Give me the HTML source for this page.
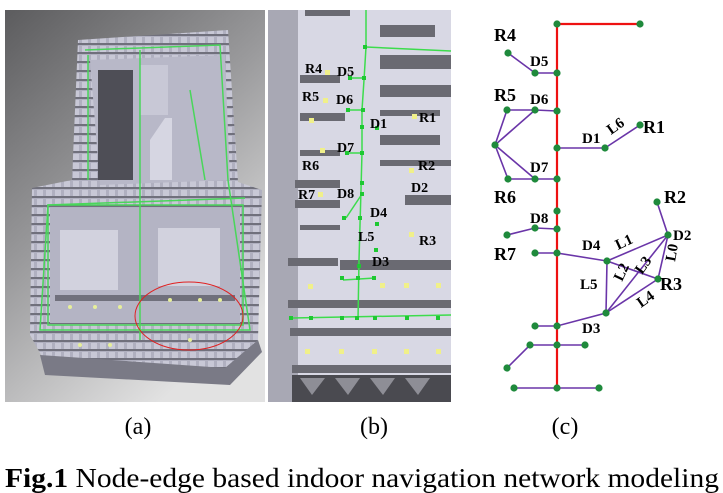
<!DOCTYPE html>
<html><head><meta charset="utf-8"><style>
html,body{margin:0;padding:0;background:#fff;}
svg{display:block;}
text{font-family:"Liberation Serif",serif;}
</style></head><body>
<svg width="723" height="493" viewBox="0 0 723 493" xmlns="http://www.w3.org/2000/svg">
<defs>
<linearGradient id="ga" x1="0" y1="0" x2="0.6" y2="1">
<stop offset="0" stop-color="#5c5c5e"/><stop offset="0.5" stop-color="#9a9a9c"/><stop offset="1" stop-color="#e2e2e2"/>
</linearGradient>
<pattern id="rooms" width="9" height="9" patternUnits="userSpaceOnUse">
<rect width="9" height="9" fill="#b0b0c0"/><rect x="1" y="1" width="6" height="6" fill="#c8c8d6"/><rect x="0" y="7" width="9" height="2" fill="#70707c"/>
</pattern>
</defs>
<!-- Panel a -->
<rect x="5" y="10" width="260" height="392" fill="url(#ga)"/>
<polygon points="78,40 228,30 238,182 262,190 258,340 225,372 45,362 30,335 32,188 72,180" fill="url(#rooms)"/>
<polygon points="40,355 225,368 258,340 262,352 230,385 45,375" fill="#7a7a86"/>
<polygon points="90,60 225,55 230,180 100,185" fill="#b8b8c8"/>
<rect x="98" y="70" width="35" height="110" fill="#4e4e56"/>
<rect x="140" y="65" width="28" height="50" fill="#c8c8d6"/>
<polygon points="150,140 165,118 172,118 172,180 150,180" fill="#d6d6e2"/>
<rect x="50" y="208" width="190" height="115" fill="#b4b4c4"/>
<rect x="60" y="230" width="58" height="60" fill="#d2d2de"/>
<rect x="158" y="228" width="62" height="58" fill="#d2d2de"/>
<rect x="55" y="295" width="180" height="6" fill="#70707c"/>
<g stroke="#49d65a" stroke-width="1.5" fill="none">
<polyline points="85,50 220,45 228,180 250,330 40,330 48,205 245,198"/>
<line x1="140" y1="50" x2="140" y2="340"/>
<line x1="88" y1="55" x2="88" y2="180"/>
<rect x="48" y="205" width="195" height="120"/>
<line x1="190" y1="90" x2="205" y2="180"/>
</g>
<g fill="#e7ef9a">
<circle cx="70" cy="307" r="2"/><circle cx="95" cy="307" r="2"/><circle cx="120" cy="307" r="2"/><circle cx="170" cy="300" r="2"/><circle cx="200" cy="300" r="2"/><circle cx="220" cy="300" r="2"/>
<circle cx="80" cy="345" r="2"/><circle cx="110" cy="345" r="2"/><circle cx="190" cy="340" r="2"/>
</g>
<ellipse cx="189" cy="316" rx="54" ry="34" fill="none" stroke="#e02020" stroke-width="1"/>
<!-- Panel b -->
<rect x="268" y="10" width="183" height="392" fill="#d8d8e4"/>
<rect x="268" y="10" width="30" height="392" fill="#a8a8b4"/>
<g fill="#6a6a72">
<rect x="305" y="10" width="45" height="6"/><rect x="380" y="25" width="55" height="12"/><rect x="380" y="55" width="71" height="14"/>
<rect x="300" y="75" width="40" height="8"/><rect x="300" y="113" width="45" height="8"/><rect x="380" y="85" width="71" height="12"/>
<rect x="380" y="135" width="60" height="10"/><rect x="295" y="180" width="45" height="8"/><rect x="295" y="200" width="45" height="8"/>
<rect x="405" y="195" width="46" height="10"/><rect x="288" y="258" width="50" height="8"/><rect x="340" y="260" width="111" height="10"/>
<rect x="288" y="300" width="163" height="8"/><rect x="290" y="328" width="161" height="8"/><rect x="292" y="365" width="159" height="8"/>
<rect x="380" y="110" width="60" height="6"/><rect x="300" y="150" width="40" height="6"/><rect x="380" y="160" width="71" height="6"/><rect x="300" y="225" width="40" height="5"/>
</g>
<polygon points="292,375 451,375 451,402 292,402" fill="#4a4a50"/>
<g fill="#8e8e96"><polygon points="300,378 325,378 312,395"/><polygon points="335,378 360,378 348,395"/><polygon points="370,378 395,378 383,395"/><polygon points="405,378 430,378 418,395"/></g>
<g stroke="#3cdc4c" stroke-width="1.5" fill="none">
<line x1="366" y1="10" x2="366" y2="47"/><line x1="366" y1="47" x2="451" y2="51"/>
<polyline points="366,47 364,80 362,110 362,152 361,190 359,260 358,320"/>
<line x1="292" y1="318" x2="451" y2="315"/>
<line x1="343" y1="280" x2="375" y2="278"/>
<line x1="350" y1="78" x2="364" y2="78"/><line x1="348" y1="110" x2="363" y2="110"/>
<line x1="346" y1="153" x2="362" y2="153"/><line x1="346" y1="218" x2="362" y2="194"/>
</g>
<g fill="#1ec832">
<rect x="363" y="45" width="4" height="4"/><rect x="348" y="76" width="4" height="4"/><rect x="362" y="76" width="4" height="4"/>
<rect x="346" y="108" width="4" height="4"/><rect x="361" y="108" width="4" height="4"/><rect x="360" y="125" width="4" height="4"/>
<rect x="375" y="126" width="4" height="4"/><rect x="345" y="151" width="4" height="4"/><rect x="360" y="151" width="4" height="4"/>
<rect x="360" y="181" width="4" height="4"/><rect x="360" y="192" width="4" height="4"/><rect x="342" y="216" width="4" height="4"/>
<rect x="358" y="216" width="4" height="4"/><rect x="375" y="222" width="4" height="4"/><rect x="374" y="248" width="4" height="4"/>
<rect x="357" y="264" width="4" height="4"/><rect x="340" y="276" width="4" height="4"/><rect x="356" y="276" width="4" height="4"/><rect x="372" y="276" width="4" height="4"/>
<rect x="289" y="316" width="4" height="4"/><rect x="309" y="316" width="4" height="4"/><rect x="340" y="316" width="4" height="4"/><rect x="355" y="316" width="4" height="4"/><rect x="373" y="316" width="4" height="4"/><rect x="405" y="316" width="4" height="4"/><rect x="436" y="316" width="4" height="4"/>
</g>
<g fill="#f0f08a">
<rect x="325" y="70" width="5" height="5"/><rect x="323" y="98" width="5" height="5"/><rect x="412" y="114" width="5" height="5"/>
<rect x="309" y="118" width="5" height="5"/><rect x="320" y="148" width="5" height="5"/><rect x="409" y="168" width="5" height="5"/>
<rect x="318" y="192" width="5" height="5"/><rect x="409" y="232" width="5" height="5"/>
<rect x="308" y="284" width="5" height="5"/><rect x="380" y="283" width="5" height="5"/><rect x="404" y="283" width="5" height="5"/><rect x="436" y="283" width="5" height="5"/>
<rect x="305" y="349" width="5" height="5"/><rect x="339" y="349" width="5" height="5"/><rect x="372" y="349" width="5" height="5"/><rect x="404" y="349" width="5" height="5"/><rect x="436" y="349" width="5" height="5"/>
</g>
<g font-size="14" font-weight="bold" fill="#000">
<text x="305" y="73">R4</text><text x="337" y="76">D5</text><text x="302" y="101">R5</text><text x="336" y="104">D6</text>
<text x="370" y="128">D1</text><text x="419" y="122">R1</text><text x="337" y="152">D7</text><text x="302" y="170">R6</text>
<text x="418" y="170">R2</text><text x="411" y="192">D2</text><text x="298" y="199">R7</text><text x="337" y="198">D8</text>
<text x="370" y="217">D4</text><text x="358" y="241">L5</text><text x="419" y="245">R3</text><text x="372" y="266">D3</text>
</g>
<!-- Panel c -->
<g stroke="#6a35a8" stroke-width="1.6" fill="none">
<polyline points="508,53 535,73 557,73"/>
<polyline points="557,111 535,110 507,110 495,145 508,179 557,179"/>
<line x1="535" y1="110" x2="495" y2="145"/><line x1="495" y1="145" x2="535" y2="179"/>
<polyline points="557,148 605,148 640,125"/>
<polyline points="507,235 535,228 557,229"/>
<polyline points="535,253 557,253 607,261 606,313 557,326 535,326"/>
<line x1="607" y1="261" x2="668" y2="235"/><line x1="607" y1="261" x2="658" y2="279"/>
<line x1="606" y1="313" x2="668" y2="235"/><line x1="606" y1="313" x2="658" y2="279"/>
<line x1="668" y1="235" x2="658" y2="279"/><line x1="668" y1="235" x2="657" y2="202"/>
<polyline points="507,368 530,345 585,345"/>
<line x1="514" y1="388" x2="599" y2="388"/>
</g>
<g stroke="#ee1111" stroke-width="2.2" fill="none">
<polyline points="640,24 557,24 557,388"/>
</g>
<g fill="#1f8a3c">
<circle cx="557" cy="24" r="3.6"/><circle cx="640" cy="24" r="3.6"/>
<circle cx="557" cy="73" r="3.6"/><circle cx="535" cy="73" r="3.6"/><circle cx="508" cy="53" r="3.6"/>
<circle cx="557" cy="111" r="3.6"/><circle cx="535" cy="110" r="3.6"/><circle cx="507" cy="110" r="3.6"/><circle cx="495" cy="145" r="3.6"/>
<circle cx="557" cy="148" r="3.6"/><circle cx="605" cy="148" r="3.6"/><circle cx="640" cy="125" r="3.6"/>
<circle cx="557" cy="179" r="3.6"/><circle cx="535" cy="179" r="3.6"/><circle cx="508" cy="179" r="3.6"/>
<circle cx="557" cy="211" r="3.6"/><circle cx="557" cy="229" r="3.6"/><circle cx="535" cy="228" r="3.6"/><circle cx="507" cy="235" r="3.6"/>
<circle cx="557" cy="253" r="3.6"/><circle cx="535" cy="253" r="3.6"/>
<circle cx="607" cy="261" r="3.6"/><circle cx="668" cy="235" r="3.6"/><circle cx="657" cy="202" r="3.6"/><circle cx="658" cy="279" r="3.6"/><circle cx="606" cy="313" r="3.6"/>
<circle cx="557" cy="326" r="3.6"/><circle cx="535" cy="326" r="3.6"/>
<circle cx="557" cy="345" r="3.6"/><circle cx="530" cy="345" r="3.6"/><circle cx="585" cy="345" r="3.6"/><circle cx="507" cy="368" r="3.6"/>
<circle cx="557" cy="388" r="3.6"/><circle cx="514" cy="388" r="3.6"/><circle cx="599" cy="388" r="3.6"/>
</g>
<g font-weight="bold" fill="#000">
<g font-size="18"><text x="494" y="41">R4</text><text x="494" y="101">R5</text><text x="643" y="133">R1</text><text x="494" y="203">R6</text><text x="664" y="203">R2</text><text x="494" y="260">R7</text><text x="660" y="290">R3</text></g>
<g font-size="15"><text x="530" y="66">D5</text><text x="530" y="104">D6</text><text x="582" y="143">D1</text><text x="530" y="172">D7</text><text x="530" y="223">D8</text><text x="582" y="250">D4</text><text x="673" y="240">D2</text><text x="582" y="333">D3</text><text x="580" y="289">L5</text>
<text transform="translate(611,135) rotate(-35)">L6</text>
<text transform="translate(618,250) rotate(-25)">L1</text>
<text transform="translate(622,282) rotate(-65)">L2</text>
<text transform="translate(642,275) rotate(-55)">L3</text>
<text transform="translate(675,262) rotate(-80)">L0</text>
<text transform="translate(641,308) rotate(-35)">L4</text></g>
</g>
<!-- captions -->
<g font-size="24" fill="#000" text-anchor="middle"><text x="138" y="434">(a)</text><text x="374" y="434">(b)</text><text x="565" y="434">(c)</text></g>
<text x="5" y="487" font-size="27" textLength="714" lengthAdjust="spacingAndGlyphs"><tspan font-weight="bold">Fig.1</tspan> Node-edge based indoor navigation network modeling</text>
</svg>
</body></html>
